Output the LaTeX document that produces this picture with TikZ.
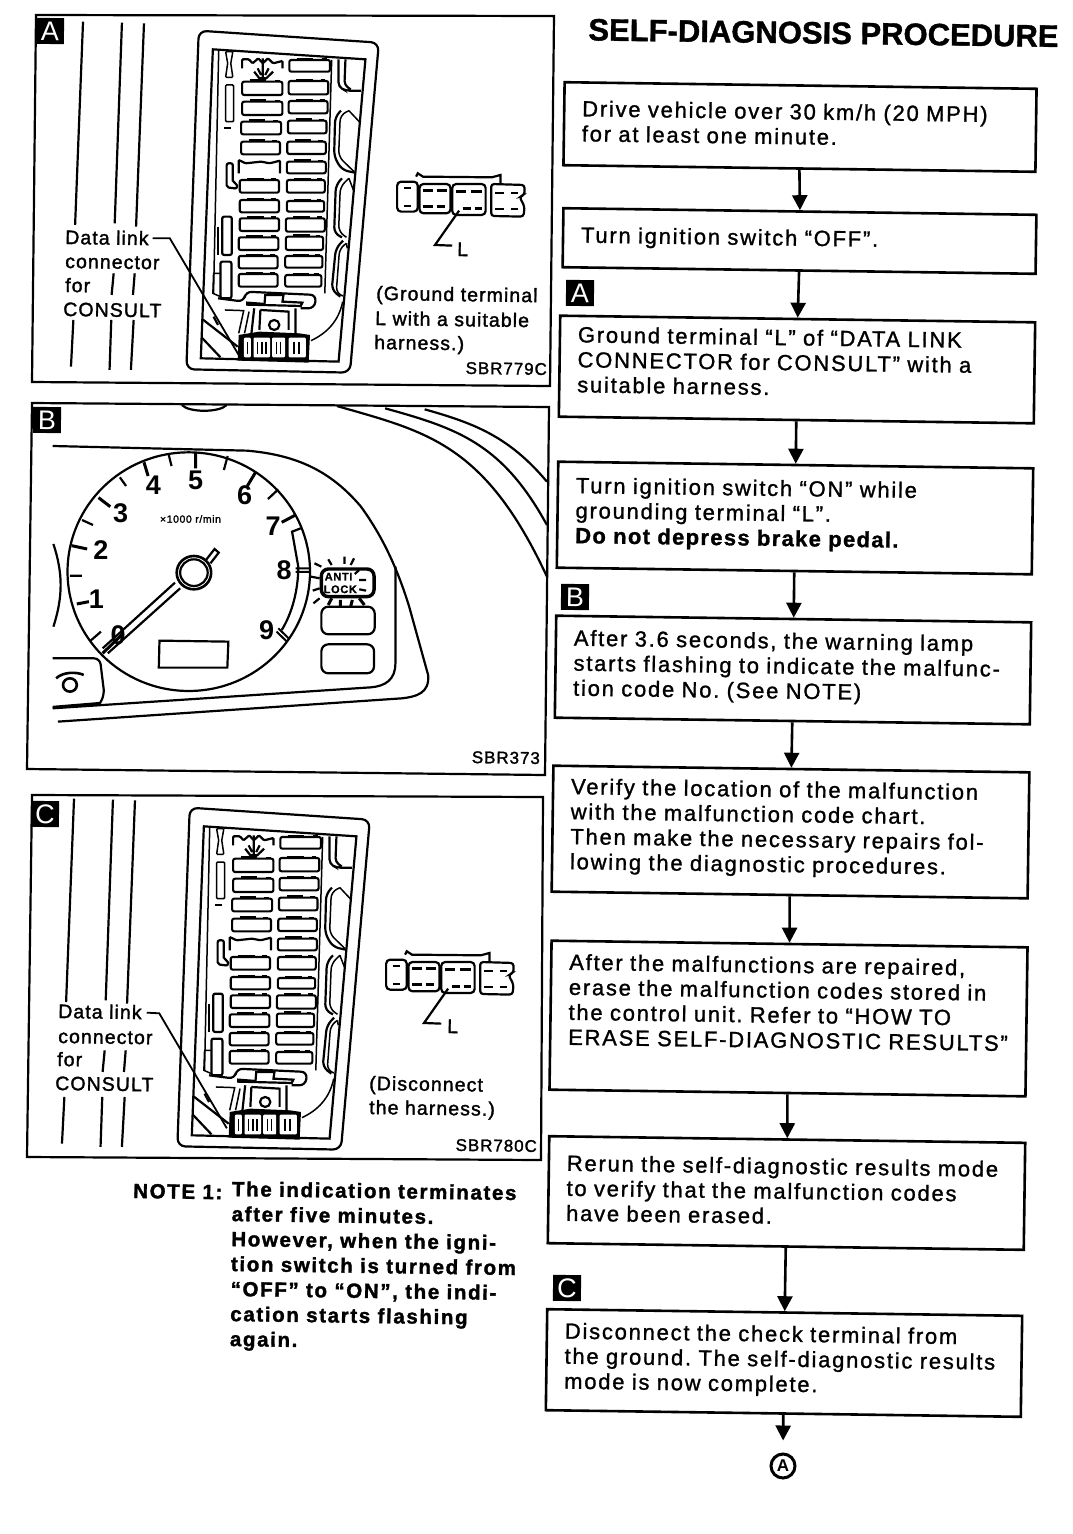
\documentclass[tikz,border=0pt]{standalone}
\usepackage{fontspec}
\usetikzlibrary{arrows.meta}
\setmainfont{Liberation Sans}
\newfontfamily\flowf[LetterSpace=8,FakeBold=1.2]{Liberation Sans}
\newfontfamily\flowb[LetterSpace=6,FakeBold=1.2]{Liberation Sans Bold}
\newfontfamily\labf[LetterSpace=5.5,FakeBold=1.6]{Liberation Sans}
\newfontfamily\tagf{Liberation Sans}
\newfontfamily\titlef[FakeBold=1.2]{Liberation Sans Bold}
\newfontfamily\notef[LetterSpace=8,FakeBold=1.6]{Liberation Sans Bold}
\newcommand{\tailgap}[1]{\par\vspace{#1}\nointerlineskip\hbox{}}
\frenchspacing
\tikzset{
  flowbox/.style={draw=black,line width=2.6pt,rotate=-0.8,inner sep=0pt,align=left,
    font=\fontsize{22}{25}\selectfont\flowf},
  flow/.style={line width=2.6pt,-{Triangle[length=15pt,width=15pt]}},
  tagbox/.style={fill=black,text=white,inner sep=0pt,minimum width=28pt,minimum height=26pt,
    font=\fontsize{27}{27}\selectfont\tagf,rotate=-0.8},
  lab/.style={inner sep=0pt,anchor=base west,rotate=-0.8,font=\fontsize{19.5}{25}\selectfont\labf},
  labr/.style={lab,anchor=base east},
  frame/.style={line width=2.2pt,line join=miter},
  ln/.style={line width=1.5pt},
  thick line/.style={line width=2.2pt},
  gnum/.style={inner sep=0pt,font=\fontsize{27}{27}\selectfont\bfseries}
}
% fuse panel, drawn in a magnified coordinate system
\newcommand{\fusepanel}{%
  % background slanted lines
  \draw[thick line] (183,65)--(160,675) (155,960)--(148,1100);
  \draw[thick line] (296,68)--(275,670) (272,820)--(266,885) (265,960)--(260,1110);
  \draw[thick line] (360,70)--(337,680) (333,820)--(328,885) (330,960)--(322,1110);
  % outer and inner outline
  \draw[thick line,rounded corners=8pt] (519,92)--(1042,128)--(958,1118)--(483,1108)--cycle;
  \draw[thick line] (560,148)--(1003,178)--(925,1085)--(525,1075)--cycle;
  \draw[ln] (577,150)--(562,880) (905,180)--(885,880);
  % top-left details
  \draw[ln,rounded corners=1pt] (597,155)--(618,155)--(612,190)--(618,232)--(597,232)--(603,190)--cycle;
  \draw[ln,rounded corners=1pt] (597,255) rectangle (620,365);
  \draw[thick line] (592,385)--(612,385);
  \draw[thick line,rounded corners=2pt] (600,490)--(618,490)--(618,548)--(630,550)--(630,566)--(600,562)--cycle;
  \draw[thick line,rounded corners=2pt] (587,650) rectangle (615,765);
  \draw[ln] (575,680)--(575,765);
  \draw[thick line,rounded corners=2pt] (582,785) rectangle (614,895);
  \draw[ln] (562,820)--(582,820) (562,820)--(560,880)--(582,890);
  % upper-left fuse with tree
  \draw[thick line,rounded corners=1pt] (645,205)--(645,178)--(665,178)--(675,190)--(692,175)--(705,190)--(720,175)--(735,190)--(762,183)--(762,205);
  \draw[thick line] (705,175)--(705,240) (680,215)--(695,235)--(715,235)--(735,215) (690,205)--(700,225) (722,205)--(712,225);
  % fuses
  \foreach \a/\b/\c/\d in {782/900/180/215,780/895/243/283,645/762/245/285,780/893/303/340,645/762/305/345,
    778/890/362/400,642/758/365/403,776/888/425/462,642/755/425/463,775/888/485/520,
    775/885/540/578,638/752/540/578,775/883/603/635,638/752/600/637,772/885/655/695,638/752/655/693,
    772/880/710/750,635/750/712/750,770/878/768/803,635/748/768/805,770/875/825/860,635/748/822/860}{
    \draw[line width=2.1pt,rounded corners=2pt] (\a,\c) rectangle (\b,\d);
    \draw[line width=2.1pt] ({\a+22},{\c-4})--({\a+70},{\c-4}) ({\b-22},{\c-3})--({\b-8},{\c-3});
  }
  % open fuse
  \draw[thick line,rounded corners=1pt] (635,520)--(635,480)--(655,490)--(700,485)--(725,490)--(755,482)--(755,520);
  % right-hand clips
  \draw[thick line,rounded corners=4pt] (925,178)--(925,260)--(945,272)--(990,272) (945,178)--(942,255)--(960,268);
  \draw[thick line,rounded corners=6pt] (932,332)--(915,350)--(912,470)--(935,510)--(972,518);
  \draw[ln,rounded corners=6pt] (955,332)--(930,345)--(925,470)--(970,515) (955,332)--(985,365);
  \draw[thick line,rounded corners=6pt] (935,535)--(917,555)--(912,700)--(935,712);
  \draw[ln,rounded corners=6pt] (955,535)--(930,560)--(925,695)--(948,712) (955,535)--(968,570);
  \draw[thick line,rounded corners=6pt] (938,722)--(917,745)--(905,870)--(930,890);
  \draw[ln,rounded corners=6pt] (948,730)--(928,745)--(918,880)--(938,888) (948,730)--(950,745);
  % housing at the foot
  \draw[thick line,rounded corners=6pt] (575,895)--(650,905)--(655,875)--(860,885)--(855,925)--(815,925);
  \draw[thick line] (660,908)--(710,912)--(712,885)--(765,885)--(762,905)--(820,908)--(815,918)--(660,914)--cycle;
  \draw[thick line] (680,925)--(672,1000) (800,925)--(800,1000);
  \draw[thick line] (698,930)--(780,935)--(780,990) (698,930)--(695,990);
  \draw[thick line] (738,975) circle (15);
  \draw[ln] (595,930)--(650,932) (650,930)--(635,1000) (665,935)--(652,1000);
  \draw[thick line] (530,958)--(632,1040) (562,950)--(575,975);
  \draw[thick line] (527,1012)--(582,1072);
  \draw[ln] (845,1022) .. controls (890,1000) and (925,965) .. (937,905);
  % data link connector
  \fill[black] (635,1005)--(695,995)--(810,1000)--(842,1005)--(838,1088)--(632,1082)--cycle;
  \foreach \a/\b in {650/670,678/726,732/770,780/830}{
    \fill[white,rounded corners=1pt] (\a,1013) rectangle (\b,1072);
  }
  \foreach \a in {660,690,702,714,745,757,795,810}{
    \draw[line width=1.5pt] (\a,1025)--(\a,1062);
  }
}
% connector sketch with terminal L, also magnified
\newcommand{\consultplug}{%
  \draw[thick line,rounded corners=4pt] (1095,545) rectangle (1155,635);
  \draw[thick line] (1115,565)--(1135,565) (1115,617)--(1135,617);
  \draw[thick line,rounded corners=4pt] (1160,552) rectangle (1250,640);
  \draw[thick line,rounded corners=4pt] (1255,552) rectangle (1352,645);
  \draw[line width=2.4pt] (1170,572)--(1200,572) (1210,572)--(1240,572) (1170,620)--(1200,620) (1210,620)--(1235,620)
    (1265,575)--(1295,575) (1310,575)--(1340,575) (1285,625)--(1310,625) (1320,625)--(1340,625);
  \draw[thick line] (1150,530)--(1155,520)--(1170,530)--(1370,532)--(1395,525)--(1395,550);
  \draw[thick line,rounded corners=3pt] (1368,552)--(1465,555)--(1465,585)--(1450,590)--(1465,620)--(1462,650)--(1368,648)--cycle;
  \draw[thick line] (1380,578)--(1405,578) (1425,578)--(1445,578) (1380,628)--(1405,628) (1425,628)--(1445,628);
  \draw[thick line] (1275,632)--(1205,735)--(1255,737);
}
\begin{document}
\begin{tikzpicture}[x=1pt,y=-1pt]
\useasboundingbox (0,0) rectangle (1072,1534);
\fill[white] (0,0) rectangle (1072,1534);

% ---- panel frames
\draw[frame] (36,15)--(554,16)--(550,386)--(32,382)--cycle;
\draw[frame] (32,403)--(549,407)--(545,775)--(27,769)--cycle;
\draw[frame] (32,795)--(543,797)--(541,1160)--(27,1157)--cycle;

% ---- panel A drawing
\begin{scope}[shift={(20,0)},x=0.3444pt,y=-0.3333pt]
  \fusepanel
  \consultplug
  \draw[line width=1.8pt] (385,715)--(435,715)--(635,1065);
\end{scope}
% ---- panel C drawing
\begin{scope}[shift={(11,777)},x=0.3444pt,y=-0.3333pt]
  \fusepanel
\end{scope}
\begin{scope}[shift={(9,778)},x=0.3444pt,y=-0.3333pt]
  \consultplug
\end{scope}
\begin{scope}[shift={(20,785)},x=0.338pt,y=-0.3333pt]
  \draw[line width=1.8pt] (375,683)--(412,685)--(612,1030);
\end{scope}

% ---- tags
\node[tagbox] (tA1) at (50,31) {A};
\node[tagbox] (tB1) at (47,420) {B};
\node[tagbox] (tC1) at (45,814) {C};
\node[tagbox] (tA2) at (580,293) {A};
\node[tagbox] (tB2) at (575,597) {B};
\node[tagbox] (tC2) at (567,1288) {C};

% ---- labels panel A
\node[lab] (a1) at (65,244) {Data link};
\node[lab] (a2) at (65,268) {connector};
\node[lab] (a3) at (65,292) {for};
\node[lab] (a4) at (63,316) {CONSULT};
\node[lab] (a5) at (376,300) {(Ground terminal};
\node[lab] (a6) at (375,325) {L with a suitable};
\node[lab] (a7) at (374,349) {harness.)};
\node[labr,font=\fontsize{17}{20}\selectfont\labf] (a8) at (547,375) {SBR779C};
\node[lab] (aL) at (457,256) {L};
% ---- labels panel C
\node[lab] (c1) at (58,1018) {Data link};
\node[lab] (c2) at (58,1043) {connector};
\node[lab] (c3) at (57,1066) {for};
\node[lab] (c4) at (55,1090) {CONSULT};
\node[lab] (c5) at (369,1090) {(Disconnect};
\node[lab] (c6) at (369,1114) {the harness.)};
\node[labr,font=\fontsize{17}{20}\selectfont\labf] (c7) at (537,1152) {SBR780C};
\node[lab] (cL) at (447,1033) {L};

% ---- panel B drawing
\begin{scope}[shift={(20,400)},x=0.3444pt,y=-0.3333pt]
  \draw[thick line] (490,515) ellipse [x radius=352,y radius=358];
  \draw[thick line] (95,138)--(660,152) .. controls (800,165) and (900,210) .. (990,320)
     .. controls (1060,420) and (1100,520) .. (1130,620) -- (1185,825)
     .. controls (1190,880) and (1150,890) .. (1110,895) -- (110,965);
  \draw[thick line] (1090,500)--(1090,790) .. controls (1090,840) and (1060,858) .. (1020,862) -- (95,925);
  \draw[line width=3pt] (95,922)--(235,910);
  \draw[thick line] (470,15) .. controls (490,38) and (580,38) .. (600,15);
  \draw[thick line] (920,18) .. controls (1180,95) and (1350,130) .. (1530,530);
  \draw[thick line] (1060,25) .. controls (1270,85) and (1400,130) .. (1530,375);
  \draw[thick line] (1175,28) .. controls (1320,70) and (1420,110) .. (1530,245);
  \draw[thick line] (97,432) .. controls (125,520) and (125,590) .. (97,680);
  \draw[thick line,rounded corners=6pt] (95,775)--(232,775)--(245,885)--(232,910);
  \draw[line width=2.6pt] (145,855) circle (20);
  \draw[line width=2.6pt] (105,835) .. controls (125,815) and (165,815) .. (185,825);
  % ticks
  \draw[line width=2.2pt] (205,722)--(235,695) (145,527)--(180,527) (180,360)--(212,375)
     (290,232)--(308,258) (432,165)--(440,198) (603,168)--(592,210) (750,268)--(720,297);
  \draw[line width=3pt] (240,760)--(300,700) (165,612)--(200,605) (150,437)--(195,447)
     (228,293)--(262,320) (360,187)--(372,228) (510,158)--(510,205) (685,215)--(660,258)
     (800,345)--(760,367);
  \draw[line width=2pt] (800,505)--(842,505) (800,516)--(842,516)
     (750,685)--(780,715) (745,695)--(775,725);
  % inner band of the scale
  \draw[thick line] (815,385)--(790,395)--(808,500) .. controls (808,570) and (790,640) .. (760,690);
  % hub and needle
  \draw[line width=2.6pt] (505,518) circle (50);
  \draw[line width=2.2pt] (505,518) circle (40);
  \draw[line width=2.2pt] (450,548)--(240,745) (465,565)--(255,760);
  \draw[line width=2.2pt] (540,480)--(565,447)--(577,458)--(553,490);
  % gauge numerals
  \node[gnum] (n0) at (285,707) {0};
  \node[gnum] (n1) at (222,597) {1};
  \node[gnum] (n2) at (235,450) {2};
  \node[gnum] (n3) at (292,340) {3};
  \node[gnum] (n4) at (387,255) {4};
  \node[gnum] (n5) at (510,240) {5};
  \node[gnum] (n6) at (652,285) {6};
  \node[gnum] (n7) at (735,380) {7};
  \node[gnum] (n8) at (767,510) {8};
  \node[gnum] (n9) at (716,690) {9};
  \node[inner sep=0pt,font=\fontsize{10.5}{12}\selectfont\labf] (rmin) at (495,357) {×1000 r/min};
  % lamps and readout
  \draw[line width=2.2pt] (405,722)--(605,725)--(602,803)--(403,803)--cycle;
  \draw[line width=2.2pt,rounded corners=7pt] (875,620) rectangle (1030,703);
  \draw[line width=2.2pt,rounded corners=7pt] (875,733) rectangle (1028,820);
  \draw[line width=3.4pt,rounded corners=7pt] (875,507) rectangle (1028,590);
  \node[inner sep=0pt,font=\fontsize{11}{11}\selectfont\flowb] (anti) at (925,530) {ANTI};
  \node[inner sep=0pt,font=\fontsize{11}{11}\selectfont\flowb] (lock) at (930,568) {LOCK};
  \draw[line width=2.2pt] (855,490)--(875,500) (895,478)--(905,495) (942,470)--(942,492) (970,475)--(960,495)
    (845,530)--(870,535) (850,572)--(870,565) (852,610)--(870,595)
    (985,510)--(972,522) (985,540)--(1005,540) (985,568)--(1005,572);
  \draw[line width=3pt] (905,595)--(895,615) (930,600)--(930,620) (965,600)--(960,620) (985,595)--(1000,615);
\end{scope}
\node[labr,font=\fontsize{17}{20}\selectfont\labf] (b8) at (540,764) {SBR373};

% ---- note
\node[inner sep=0pt,anchor=base west,rotate=-0.8,font=\fontsize{20.5}{25}\selectfont\notef] (noteh) at (133,1198) {NOTE 1:};
\node[inner sep=0pt,anchor=north west,align=left,rotate=-0.8,font=\fontsize{20.5}{25}\selectfont\notef] (notet) at (232,1181) {The indication terminates\\
after five minutes.\\
However, when the igni-\\
tion switch is turned from\\
“OFF” to “ON”, the indi-\\
cation starts flashing\\
again.};

% ---- title
\node[inner sep=0pt,rotate=-0.8,font=\fontsize{31}{32}\selectfont\titlef] (title) at (823.5,33) {SELF-DIAGNOSIS PROCEDURE};

% ---- flow chart
\node[flowbox,minimum width=472pt,minimum height=83pt,text width=436pt] (b1) at (800,127)
  {Drive vehicle over 30 km/h (20 MPH)\\for at least one minute.\tailgap{6pt}};
\node[flowbox,minimum width=473pt,minimum height=59pt,text width=437pt] (b2) at (799.5,241)
  {Turn ignition switch “OFF”.\tailgap{2pt}};
\node[flowbox,minimum width=475pt,minimum height=101pt,text width=439pt] (b3) at (797,369.5)
  {Ground terminal “L” of “DATA LINK\\CONNECTOR for CONSULT” with a\\suitable harness.\tailgap{14pt}};
\node[flowbox,minimum width=475pt,minimum height=106pt,text width=439pt] (b4) at (795,518)
  {Turn ignition switch “ON” while\\grounding terminal “L”.\\{\flowb Do not depress brake pedal.}\tailgap{5pt}};
\node[flowbox,minimum width=475pt,minimum height=102pt,text width=439pt] (b5) at (793,670)
  {After 3.6 seconds, the warning lamp\\starts flashing to indicate the malfunc-\\tion code No. (See NOTE)\tailgap{4pt}};
\node[flowbox,minimum width=476pt,minimum height=126pt,text width=440pt] (b6) at (790.5,832)
  {Verify the location of the malfunction\\with the malfunction code chart.\\Then make the necessary repairs fol-\\lowing the diagnostic procedures.\tailgap{6pt}};
\node[flowbox,minimum width=476pt,minimum height=149pt,text width=440pt] (b7) at (788.5,1018.5)
  {After the malfunctions are repaired,\\erase the malfunction codes stored in\\the control unit. Refer to “HOW TO\\ERASE SELF-DIAGNOSTIC RESULTS”\tailgap{32pt}};
\node[flowbox,minimum width=476pt,minimum height=107pt,text width=440pt] (b8f) at (786.5,1193)
  {Rerun the self-diagnostic results mode\\to verify that the malfunction codes\\have been erased.\tailgap{4pt}};
\node[flowbox,minimum width=475pt,minimum height=101pt,text width=439pt] (b9) at (784,1363)
  {Disconnect the check terminal from\\the ground. The self-diagnostic results\\mode is now complete.\tailgap{4pt}};
\node[circle,draw=black,line width=3pt,inner sep=0pt,minimum size=24pt,font=\fontsize{17}{17}\selectfont\bfseries] (endA) at (783,1466) {A};

\draw[flow] (b1.south)--(b2.north);
\draw[flow] (b2.south)--(b3.north);
\draw[flow] (b3.south)--(b4.north);
\draw[flow] (b4.south)--(b5.north);
\draw[flow] (b5.south)--(b6.north);
\draw[flow] (b6.south)--(b7.north);
\draw[flow] (b7.south)--(b8f.north);
\draw[flow] (b8f.south)--(b9.north);
\draw[flow,shorten >=12pt] (b9.south)--(endA.north);
\end{tikzpicture}
\end{document}
